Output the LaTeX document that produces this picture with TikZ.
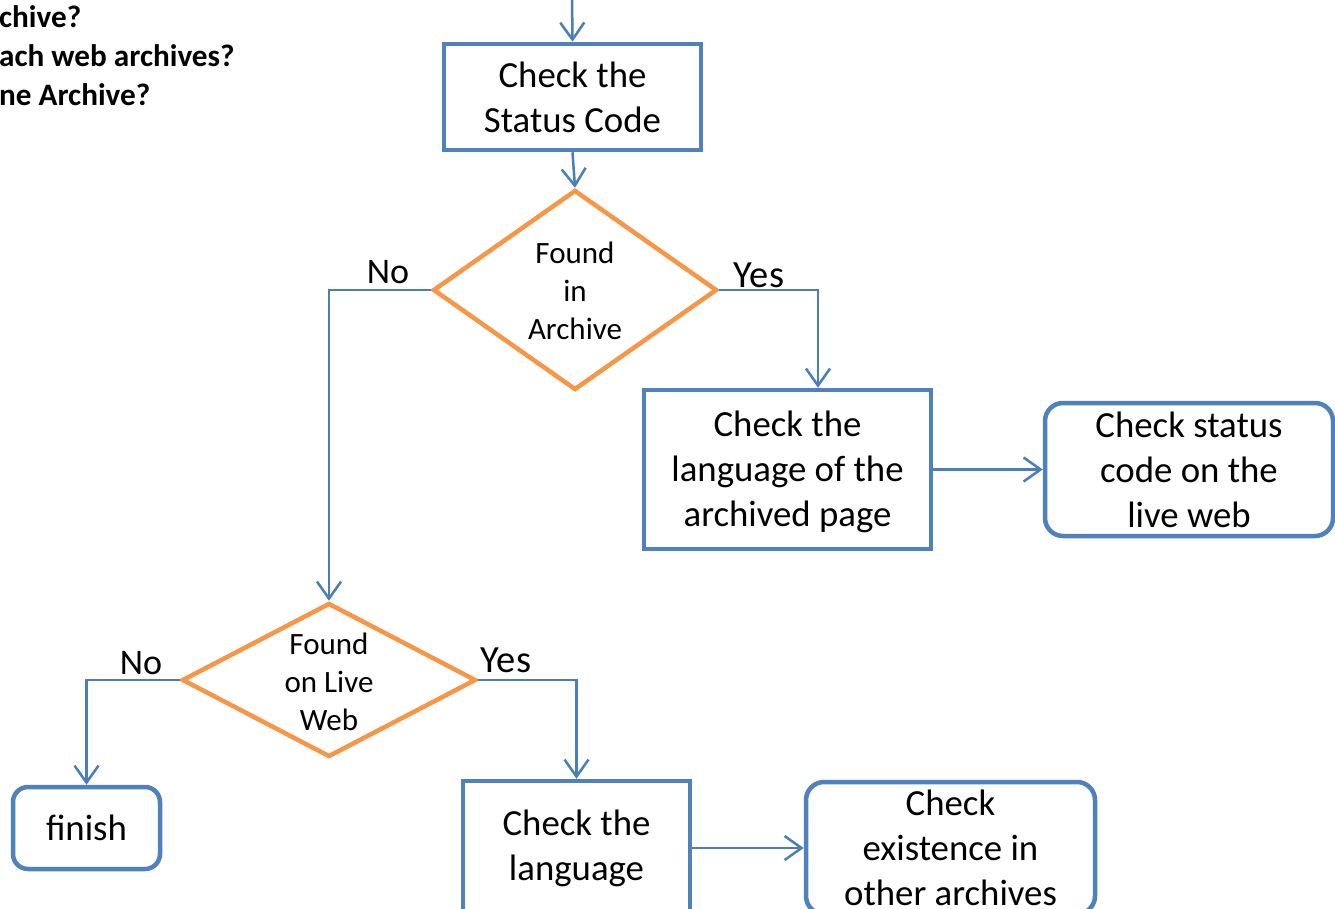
\documentclass[tikz,border=0pt]{standalone}
\usepackage{fontspec}
\setmainfont{Carlito}
\usetikzlibrary{shapes.geometric,arrows.meta}
\definecolor{boxblue}{HTML}{4F81BD}
\definecolor{linkblue}{HTML}{4A7EBB}
\definecolor{dorange}{HTML}{F79646}
\tikzset{
  sqbox/.style={draw=boxblue, line width=4.5pt, rectangle, inner sep=0pt, align=center, font=\fontsize{36.8}{45}\selectfont},
  rdbox/.style={sqbox, rounded corners=18pt},
  dshape/.style={draw=dorange, line width=4.5pt, diamond, inner sep=0pt},
  dtext/.style={align=center, inner sep=0pt, font=\fontsize{31}{38}\selectfont},
  lbl/.style={inner sep=0pt, font=\fontsize{36}{45}\selectfont},
  ylbl/.style={inner sep=0pt, font=\fontsize{38.5}{45}\selectfont},
  note/.style={inner sep=0pt, anchor=base west, font=\bfseries\fontsize{31.2}{39}\selectfont},
  arr/.style={draw=linkblue, line width=2.5pt, -{Straight Barb[length=17pt,width=24pt]}},
}
\begin{document}
\begin{tikzpicture}[x=1pt,y=-1pt]
\clip (0,0) rectangle (1335,909);
\fill[white] (0,0) rectangle (1335,909);
% top-left note text (clipped in the picture)
\node[note] (n1) at (-1,28) {chive?};
\node[note] (n2) at (-1,67) {ach web archives?};
\node[note] (n3) at (-1,106) {ne Archive?};
% nodes
\coordinate (start) at (572,-5);
\node[sqbox, minimum width=257pt, minimum height=106pt] (b1) at (572.5,97) {Check the\\Status Code};
\node[dshape, minimum width=284pt, minimum height=200pt] (d1) at (575,290) {};
\node[dtext] (t1) at (575,291) {Found\\in\\Archive};
\node[sqbox, minimum width=287pt, minimum height=159pt] (b2) at (787.5,469.5) {};
\node[align=center, inner sep=0pt, font=\fontsize{36.8}{45}\selectfont] (t2b) at (787.5,472) {Check the\\language of the\\archived page};
\node[rdbox, minimum width=288pt, minimum height=133pt] (b3) at (1189,469.5) {Check status\\code on the\\live web};
\node[dshape, minimum width=294pt, minimum height=154pt] (d2) at (329,680) {};
\node[dtext] (t2) at (329,682) {Found\\on Live\\Web};
\node[rdbox, rounded corners=15pt, minimum width=147pt, minimum height=82pt] (fin) at (86.5,828) {finish};
\node[sqbox, minimum width=227pt, minimum height=134pt] (b4) at (576.5,848) {Check the\\language};
\node[rdbox, minimum width=289pt, minimum height=132pt] (b5) at (950.5,848) {Check\\existence in\\other archives};
% labels
\node[lbl] (no1) at (388,272) {No};
\node[ylbl] (yes1) at (759,275) {Yes};
\node[lbl] (no2) at (141,663) {No};
\node[ylbl] (yes2) at (506,660) {Yes};
% connectors
\draw[arr] (start) -- (b1.north);
\draw[arr] (b1.south) -- (d1.north);
\draw[arr] (d1.east) -| ([xshift=30.5pt]b2.north);
\draw[arr] (d1.west) -| (d2.north);
\draw[arr] (b2.east) -- (b3.west);
\draw[arr] (d2.west) -| (fin.north);
\draw[arr] (d2.east) -| (b4.north);
\draw[arr] (b4.east) -- (b5.west);
\end{tikzpicture}
\end{document}
